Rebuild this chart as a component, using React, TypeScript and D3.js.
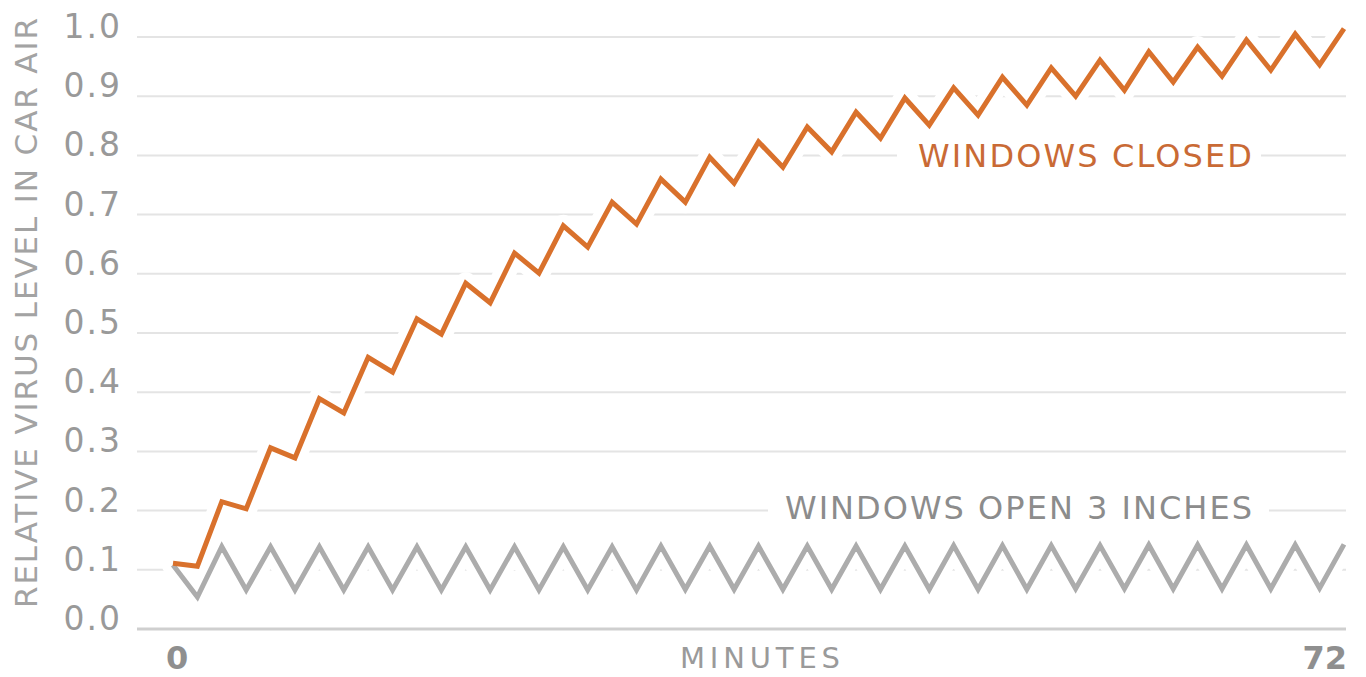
import React from "react";
import * as d3 from "d3";

const minutes = [0, 1.5, 3, 4.5, 6, 7.5, 9, 10.5, 12, 13.5, 15, 16.5, 18, 19.5, 21, 22.5, 24, 25.5, 27, 28.5, 30, 31.5, 33, 34.5, 36, 37.5, 39, 40.5, 42, 43.5, 45, 46.5, 48, 49.5, 51, 52.5, 54, 55.5, 57, 58.5, 60, 61.5, 63, 64.5, 66, 67.5, 69, 70.5, 72];

const windowsClosed = [0.111, 0.106, 0.215, 0.203, 0.306, 0.289, 0.389, 0.365, 0.459, 0.434, 0.524, 0.498, 0.584, 0.551, 0.635, 0.601, 0.681, 0.645, 0.721, 0.684, 0.760, 0.721, 0.797, 0.753, 0.823, 0.780, 0.848, 0.806, 0.873, 0.829, 0.897, 0.851, 0.914, 0.868, 0.932, 0.885, 0.948, 0.900, 0.961, 0.910, 0.975, 0.924, 0.983, 0.934, 0.995, 0.944, 1.005, 0.953, 1.014];

const windowsOpen = [0.108, 0.054, 0.139, 0.066, 0.139, 0.066, 0.139, 0.066, 0.139, 0.066, 0.139, 0.066, 0.139, 0.066, 0.139, 0.066, 0.139, 0.066, 0.139, 0.066, 0.140, 0.067, 0.140, 0.067, 0.140, 0.067, 0.140, 0.067, 0.140, 0.067, 0.140, 0.067, 0.141, 0.067, 0.141, 0.067, 0.141, 0.068, 0.141, 0.068, 0.142, 0.068, 0.142, 0.068, 0.142, 0.068, 0.142, 0.069, 0.143];

const yTicks = [0, 0.1, 0.2, 0.3, 0.4, 0.5, 0.6, 0.7, 0.8, 0.9, 1.0];
const xTickLabels = ["0", "72"];
const seriesLabels = ["WINDOWS CLOSED", "WINDOWS OPEN 3 INCHES"];
const xAxisTitle = "MINUTES";
const yAxisTitle = "RELATIVE VIRUS LEVEL IN CAR AIR";

const W = 1366;
const H = 677;
const FONT = "'DejaVu Sans', sans-serif";

export default function App() {
  const x = d3.scaleLinear().domain([0, 72]).range([173, 1344]);
  const y = d3.scaleLinear().domain([0, 1]).range([629, 37]);
  const gridX0 = 137;
  const gridX1 = 1346;

  const closedPts = minutes.map((m, i) => [m, windowsClosed[i]] as [number, number]);
  const openPts = minutes.map((m, i) => [m, windowsOpen[i]] as [number, number]);
  const line = d3
    .line<[number, number]>()
    .x((d) => x(d[0]))
    .y((d) => y(d[1]));

  const orange = "#d9712c";
  const grayLine = "#acacac";

  return (
    <svg
      width={W}
      height={H}
      style={{ position: "fixed", left: 0, top: 0, background: "#fff" }}
    >
      <rect x={0} y={0} width={W} height={H} fill="#fff" />
      {yTicks.map((t) => (
        <line
          key={"g" + t}
          x1={gridX0}
          x2={gridX1}
          y1={y(t)}
          y2={y(t)}
          stroke={t === 0 ? "#cfcfcf" : "#e4e4e4"}
          strokeWidth={t === 0 ? 3 : 2}
        />
      ))}
      {yTicks.map((t) => (
        <text
          key={"t" + t}
          x={122}
          y={y(t) + 1}
          textAnchor="end"
          fontFamily={FONT}
          fontSize={33}
          fill="#999999"
          letterSpacing={2}
        >
          {d3.format(".1f")(t)}
        </text>
      ))}
      <path d={line(openPts) || ""} fill="none" stroke="#fff" strokeWidth={22} strokeLinejoin="round" strokeLinecap="round" />
      <path d={line(closedPts) || ""} fill="none" stroke="#fff" strokeWidth={22} strokeLinejoin="round" strokeLinecap="round" />
      <path d={line(openPts) || ""} fill="none" stroke={grayLine} strokeWidth={5} strokeLinejoin="miter" />
      <path d={line(closedPts) || ""} fill="none" stroke={orange} strokeWidth={5} strokeLinejoin="miter" />

      <rect x={897} y={y(0.8) - 18} width={364} height={36} fill="#fff" />
      <text
        x={918}
        y={y(0.8) + 12}
        fontFamily={FONT}
        fontSize={32}
        fill="#c96a35"
        textLength={334}
        lengthAdjust="spacing"
      >
        {seriesLabels[0]}
      </text>
      <rect x={768} y={y(0.2) - 18} width={501} height={36} fill="#fff" />
      <text
        x={785}
        y={y(0.2) + 8}
        fontFamily={FONT}
        fontSize={32}
        fill="#8c8c8c"
        textLength={467}
        lengthAdjust="spacing"
      >
        {seriesLabels[1]}
      </text>

      <text x={166} y={669} fontFamily={FONT} fontSize={32} fontWeight="bold" fill="#8f8f8f">
        {xTickLabels[0]}
      </text>
      <text x={1347} y={669} textAnchor="end" fontFamily={FONT} fontSize={32} fontWeight="bold" fill="#8f8f8f">
        {xTickLabels[1]}
      </text>
      <text
        x={680}
        y={668}
        fontFamily={FONT}
        fontSize={29}
        fill="#9a9a9a"
        textLength={160}
        lengthAdjust="spacing"
      >
        {xAxisTitle}
      </text>
      <text
        transform={`translate(37, 608) rotate(-90)`}
        x={0}
        y={0}
        fontFamily={FONT}
        fontSize={31}
        fill="#a3a3a3"
        textLength={590}
        lengthAdjust="spacing"
      >
        {yAxisTitle}
      </text>
    </svg>
  );
}
